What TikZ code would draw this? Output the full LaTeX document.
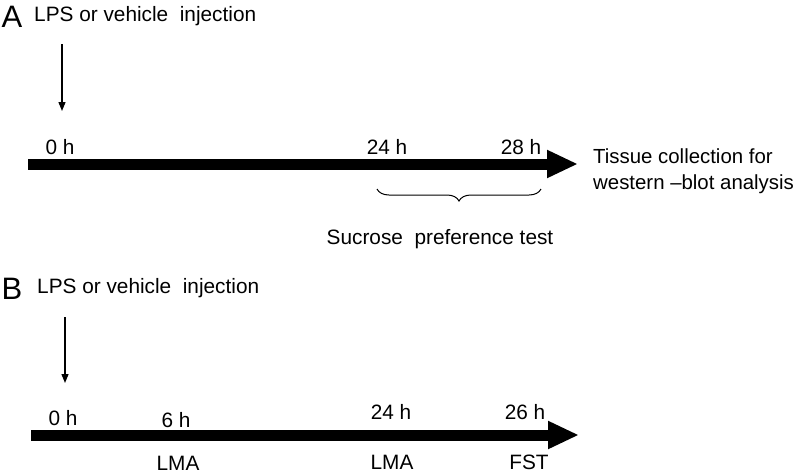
\documentclass[tikz,border=0pt]{standalone}
\usepackage{fontspec}
\setmainfont{Liberation Sans}
\usetikzlibrary{arrows.meta,decorations.pathreplacing}
\begin{document}
\begin{tikzpicture}[x=1pt,y=-1pt,
  lbl/.style={inner sep=0pt,font=\fontsize{20.8}{25}\selectfont},
  panel/.style={inner sep=0pt,font=\fontsize{31}{34}\selectfont},
  timebar/.style={line width=11pt,-{Triangle[length=31pt,width=26pt]}},
  inject/.style={line width=1.3pt,-{Triangle[length=9pt,width=7pt]}},
  bracestyle/.style={line width=1pt,decorate,decoration={brace,mirror,amplitude=12pt}}]
\useasboundingbox (0,0) rectangle (800,475);
% Panel A
\node[panel] (A) at (12,17) {A};
\node[lbl,anchor=west] (injA) at (34,16) {LPS or vehicle\ \ injection};
\coordinate (inA1) at (62,44);
\coordinate (inA2) at (62,111);
\draw[inject] (inA1) -- (inA2);
\node[lbl] (a0) at (60,147) {0 h};
\node[lbl] (a24) at (387,147) {24 h};
\node[lbl] (a28) at (521,147) {28 h};
\coordinate (barA1) at (28,164);
\coordinate (barA2) at (578,164);
\draw[timebar] (barA1) -- (barA2);
\node[lbl,anchor=west,align=left,font=\fontsize{20.4}{26}\selectfont] (tiss) at (593,171) {Tissue collection for\\western –blot analysis};
\coordinate (brA1) at (377,189);
\coordinate (brA2) at (541,189);
\draw[bracestyle] (brA1) -- (brA2);
\node[lbl] (spt) at (440,239) {Sucrose\ \ preference test};
% Panel B
\node[panel] (B) at (12,289) {B};
\node[lbl,anchor=west] (injB) at (37,288) {LPS or vehicle\ \ injection};
\coordinate (inB1) at (65,317);
\coordinate (inB2) at (65,383);
\draw[inject] (inB1) -- (inB2);
\node[lbl] (b0) at (63,418) {0 h};
\node[lbl] (b6) at (176,420) {6 h};
\node[lbl] (b24) at (391,412) {24 h};
\node[lbl] (b26) at (525,412) {26 h};
\coordinate (barB1) at (31,435);
\coordinate (barB2) at (579,435);
\draw[timebar] (barB1) -- (barB2);
\node[lbl] (lma1) at (178,463) {LMA};
\node[lbl] (lma2) at (392,462) {LMA};
\node[lbl] (fst) at (529,462) {FST};
\end{tikzpicture}
\end{document}
